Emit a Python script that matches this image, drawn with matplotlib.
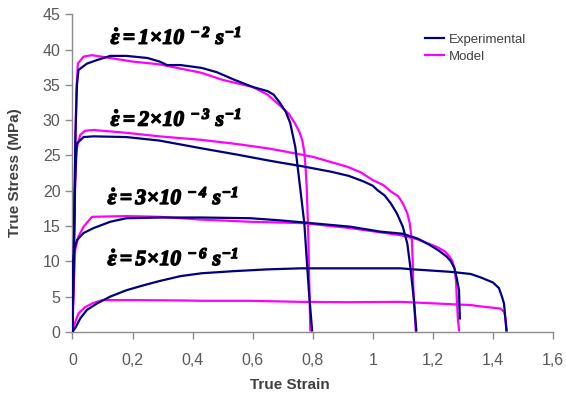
import matplotlib
matplotlib.use('Agg')
import matplotlib.pyplot as plt
import matplotlib.patheffects as pe

plt.rcParams['font.family'] = ['Liberation Sans', 'DejaVu Sans']
plt.rcParams['mathtext.fontset'] = 'custom'
plt.rcParams['mathtext.rm'] = 'Liberation Serif:bold:italic'
plt.rcParams['mathtext.it'] = 'Liberation Serif:bold:italic'
plt.rcParams['mathtext.bf'] = 'Liberation Serif:bold:italic'

# ── datos ──────────────────────────────────────────────────────────────────
# 1e-2 s^-1
exp1_x = [0, 0.005, 0.01, 0.015, 0.02, 0.048, 0.081, 0.126, 0.18, 0.25, 0.29, 0.315,
          0.36, 0.43, 0.48, 0.54, 0.6, 0.65, 0.67, 0.69, 0.71, 0.725, 0.742, 0.759,
          0.772, 0.787, 0.798]
exp1_y = [0, 12, 28, 35, 37.1, 38.0, 38.5, 39.1, 39.1, 38.8, 38.3, 37.8,
          37.8, 37.4, 36.8, 35.7, 34.7, 34.1, 33.6, 32.5, 31.2, 29.6, 26.2, 20.1,
          15.4, 5.9, 0.2]
mod1_x = [0, 0.004, 0.009, 0.013, 0.018, 0.037, 0.065, 0.126, 0.2, 0.29, 0.36, 0.43,
          0.5, 0.6, 0.65, 0.69, 0.72, 0.74, 0.755, 0.765, 0.772, 0.776, 0.78, 0.785,
          0.788, 0.792]
mod1_y = [0, 10, 25, 34, 38.0, 39.0, 39.2, 38.8, 38.3, 37.9, 37.3, 36.7,
          35.7, 34.7, 33.6, 32.1, 30.9, 29.6, 28.4, 27.2, 25.5, 23.4, 20.5, 14.0,
          8.0, 0.2]

# 2e-3 s^-1
exp2_x = [0, 0.004, 0.008, 0.012, 0.015, 0.037, 0.07, 0.18, 0.29, 0.43, 0.55, 0.65,
          0.69, 0.76, 0.86, 0.92, 0.97, 1.0, 1.015, 1.04, 1.06, 1.08, 1.1, 1.115,
          1.125, 1.137, 1.145]
exp2_y = [0, 10, 20, 25, 26.7, 27.6, 27.7, 27.6, 27.1, 26.0, 25.1, 24.3,
          24.0, 23.5, 22.7, 22.1, 21.3, 20.7, 20.1, 19.3, 18.2, 16.8, 14.9, 12.5,
          9.2, 4.5, 0.2]
mod2_x = [0, 0.004, 0.009, 0.014, 0.026, 0.042, 0.07, 0.18, 0.29, 0.43, 0.55, 0.65,
          0.69, 0.8, 0.915, 0.96, 1.0, 1.035, 1.06, 1.085, 1.1, 1.115, 1.123, 1.13,
          1.133, 1.135, 1.14, 1.143]
mod2_y = [0, 10, 21, 26, 27.9, 28.5, 28.6, 28.2, 27.7, 27.2, 26.6, 26.0,
          25.7, 24.8, 23.4, 22.6, 21.5, 20.8, 19.9, 19.2, 18.2, 16.8, 15.4, 13.0,
          10.0, 5.9, 2.5, 0.2]

# 3e-4 s^-1
exp3_x = [0, 0.003, 0.008, 0.015, 0.037, 0.07, 0.126, 0.18, 0.3, 0.43, 0.592, 0.69,
          0.77, 0.925, 1.025, 1.1, 1.15, 1.19, 1.22, 1.245, 1.26, 1.272, 1.28,
          1.287, 1.29]
exp3_y = [0, 10.2, 12.0, 13.0, 14.0, 14.7, 15.6, 16.1, 16.2, 16.2, 16.1, 15.8,
          15.5, 14.9, 14.2, 13.9, 13.2, 12.3, 11.5, 10.7, 10.0, 9.0, 7.5,
          5.9, 1.9]
mod3_x = [0, 0.004, 0.009, 0.02, 0.037, 0.065, 0.18, 0.29, 0.36, 0.43, 0.592, 0.77,
          0.925, 1.092, 1.15, 1.18, 1.215, 1.24, 1.255, 1.265, 1.272, 1.277, 1.28,
          1.283, 1.287]
mod3_y = [0, 6, 11.6, 13.5, 14.9, 16.3, 16.4, 16.3, 16.1, 15.9, 15.6, 15.4,
          14.7, 13.7, 13.1, 12.6, 12.0, 11.4, 10.7, 10.0, 9.0, 7.3, 4.5,
          2.1, 0.2]

# 5e-6 s^-1
exp4_x = [0, 0.01, 0.026, 0.048, 0.081, 0.126, 0.18, 0.237, 0.29, 0.36, 0.43, 0.537,
          0.648, 0.76, 0.9, 1.025, 1.092, 1.136, 1.26, 1.326, 1.36, 1.4, 1.42, 1.43,
          1.437, 1.445]
exp4_y = [0, 0.6, 1.9, 3.1, 4.0, 5.0, 5.9, 6.6, 7.2, 7.9, 8.3, 8.6,
          8.85, 9.0, 9.0, 9.0, 9.0, 8.85, 8.5, 8.2, 7.7, 7.0, 6.2, 5.0,
          4.0, 0.2]
mod4_x = [0, 0.003, 0.02, 0.042, 0.07, 0.1, 0.2, 0.36, 0.43, 0.59, 0.76, 0.915,
          1.092, 1.27, 1.326, 1.36, 1.425, 1.438, 1.442, 1.446]
mod4_y = [0, 0.7, 2.6, 3.5, 4.1, 4.5, 4.5, 4.45, 4.4, 4.4, 4.25, 4.2,
          4.25, 3.9, 3.8, 3.6, 3.3, 2.8, 1.8, 0.2]

rate_labels = [r'$\dot{\varepsilon}=1\!\times\!10^{\ -2}\ s^{-1}$',
               r'$\dot{\varepsilon}=2\!\times\!10^{\ -3}\ s^{-1}$',
               r'$\dot{\varepsilon}=3\!\times\!10^{\ -4}\ s^{-1}$',
               r'$\dot{\varepsilon}=5\!\times\!10^{\ -6}\ s^{-1}$']
label_pos = [(0.127, 40.8), (0.127, 29.2), (0.117, 18.1), (0.117, 9.45)]

x_ticks = [0, 0.2, 0.4, 0.6, 0.8, 1.0, 1.2, 1.4, 1.6]
x_ticklabels = ['0', '0,2', '0,4', '0,6', '0,8', '1', '1,2', '1,4', '1,6']
y_ticks = list(range(0, 50, 5))

# ── figura ─────────────────────────────────────────────────────────────────
fig = plt.figure(figsize=(5.66, 3.96), dpi=100)
ax = fig.add_axes([0.128, 0.162, 0.849, 0.802])

navy, mag = '#000080', '#ff00ff'
exp_sets = [(exp1_x, exp1_y), (exp2_x, exp2_y), (exp3_x, exp3_y), (exp4_x, exp4_y)]
mod_sets = [(mod1_x, mod1_y), (mod2_x, mod2_y), (mod3_x, mod3_y), (mod4_x, mod4_y)]
for i, ((ex, ey), (mx, my)) in enumerate(zip(exp_sets, mod_sets)):
    ax.plot(ex, ey, color=navy, lw=1.6, label='Experimental' if i == 0 else None, zorder=3)
    ax.plot(mx, my, color=mag, lw=1.6, label='Model' if i == 0 else None, zorder=2)

for txt, (tx, ty) in zip(rate_labels, label_pos):
    ax.text(tx, ty, txt, fontsize=15.5, color='black', va='baseline', ha='left',
            path_effects=[pe.withStroke(linewidth=1.0, foreground='black')])

ax.set_xlim(0, 1.6)
ax.set_ylim(0, 45)
ax.set_xticks(x_ticks)
ax.set_xticklabels(x_ticklabels)
ax.set_yticks(y_ticks)

for s in ('top', 'right'):
    ax.spines[s].set_visible(False)
for s in ('left', 'bottom'):
    ax.spines[s].set_color('#8c8c8c')
    ax.spines[s].set_linewidth(1.0)
ax.tick_params(axis='both', colors='#8c8c8c', labelcolor='#595959',
               labelsize=11.5, length=5, width=1.0, direction='out')
ax.tick_params(axis='x', pad=10)

ax.set_xlabel('True Strain', fontsize=11, fontweight='bold', color='#404040')
ax.set_ylabel('True Stress (MPa)', fontsize=11, fontweight='bold', color='#404040')
ax.xaxis.set_label_coords(0.453, -0.145)
ax.yaxis.set_label_coords(-0.105, 0.5)

leg = ax.legend(loc='upper left', bbox_to_anchor=(0.72, 0.96), frameon=False,
                fontsize=9.5, handlelength=1.4, handletextpad=0.4, borderpad=0,
                labelspacing=0.35)
for t in leg.get_texts():
    t.set_color('#404040')

fig.savefig('out.png', dpi=100)
